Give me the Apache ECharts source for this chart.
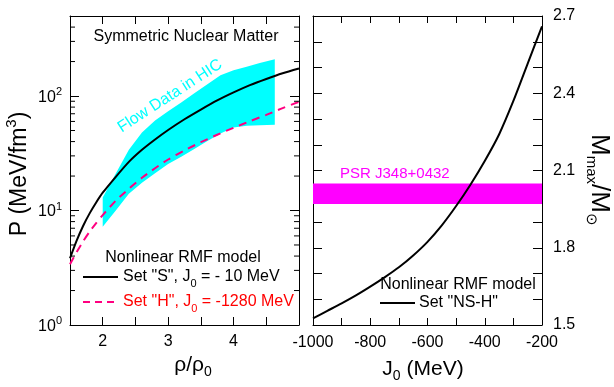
<!DOCTYPE html>
<html><head><meta charset="utf-8">
<script src="https://cdn.jsdelivr.net/npm/echarts@6/dist/echarts.min.js"></script>
<style>html,body{margin:0;padding:0;background:#fff}#c{width:614px;height:387px}</style>
</head><body><div id="c"></div>
<script>
// ---- data ----
const rhoX = [1.5,1.6,1.7,1.8,1.9,2.0,2.2,2.4,2.6,2.8,3.0,3.25,3.5,3.75,4.0,4.25,4.5,4.75,5.0];
const pressureS = [3.83,5.43,7.33,9.44,11.75,14.3,19.7,26.6,33.9,41.7,50.5,62.7,76.2,91.6,107.6,124.5,141,158,174];
const pressureH = [3.39,4.31,5.37,6.53,7.76,9.12,12.2,15.5,19.3,23.4,27.9,33.5,39.5,45.9,52.8,60.3,68.4,78.5,89.1];
const flowX = [2.0,2.2,2.4,2.6,2.8,3.0,3.2,3.4,3.6,3.8,4.0,4.2,4.4,4.63];
const flowUpper = [13,21,34,48,61,73.5,88,106,127,152,168,180,194,210];
const flowLower = [7.2,10,14,17.5,21.2,25.5,29.5,34.5,40.5,47,53,55,55.5,56];
const logMinorTicks = [2,3,4,5,6,7,8,9,20,30,40,50,60,70,80,90,200,300,400];
const rhoRange = [1.5, 5.0];
const pRange = [1, 500];
const j0 = [-1000,-950,-900,-850,-800,-750,-700,-650,-600,-550,-500,-450,-400,-350,-300,-250,-200];
const mmax = [1.526,1.555,1.584,1.615,1.649,1.685,1.724,1.770,1.823,1.887,1.962,2.045,2.137,2.24,2.37,2.515,2.66];
const j0Range = [-1000, -200];
const mRange = [1.5, 2.7];
const psrBand = [1.97, 2.05];

const FONT = 'Liberation Sans, Arial, Helvetica, sans-serif';
const chart = echarts.init(document.getElementById('c'), null, {renderer: 'canvas'});

const axisLine = {show: true, lineStyle: {color: '#000', width: 1}};
const tick = (len) => ({show: true, inside: true, length: len, lineStyle: {color: '#000', width: 1}});
const near = (a, b) => Math.abs(a - b) < 1e-6;

const logLabel = {
  show: true, margin: 8, color: '#000', fontFamily: FONT,
  formatter: v => { const l = Math.log10(v); const e = Math.round(l); return near(l, e) ? '{b|10}{sup|' + e + '}' : ''; },
  rich: {
    b: {fontSize: 16, fontFamily: FONT, color: '#000', verticalAlign: 'bottom'},
    sup: {fontSize: 11, fontFamily: FONT, color: '#000', verticalAlign: 'bottom', padding: [0, 0, 8, 0]}
  }
};

const subRich = (size, color, subSize, pad) => ({
  a: {fontSize: size, fontFamily: FONT, color: color, verticalAlign: 'top'},
  sub: {fontSize: subSize, fontFamily: FONT, color: color, verticalAlign: 'top', padding: [pad, 0, 0, 0]}
});

const option = {
  animation: false,
  backgroundColor: '#fff',
  textStyle: {fontFamily: FONT},
  grid: [
    {left: 70, top: 16, width: 229, height: 309},
    {left: 313, top: 16, width: 229, height: 309}
  ],
  xAxis: [
    {type: 'value', gridIndex: 0, position: 'bottom', min: rhoRange[0], max: rhoRange[1], interval: 0.5,
     axisLine, axisTick: tick(8), splitLine: {show: false},
     axisLabel: {show: true, margin: 9, fontSize: 16, color: '#000', fontFamily: FONT, showMinLabel: true, showMaxLabel: true,
       formatter: v => (near(v, Math.round(v)) && v >= 2 && v <= 4) ? String(Math.round(v)) : ''}},
    {type: 'value', gridIndex: 0, position: 'top', min: rhoRange[0], max: rhoRange[1], interval: 0.5,
     axisLine, axisTick: tick(8), splitLine: {show: false}, axisLabel: {show: false}},
    {type: 'value', gridIndex: 1, position: 'bottom', min: j0Range[0], max: j0Range[1], interval: 100,
     axisLine, axisTick: tick(7), splitLine: {show: false},
     axisLabel: {show: true, margin: 10, fontSize: 16, color: '#000', fontFamily: FONT, showMinLabel: true, showMaxLabel: true,
       formatter: v => (Math.round(v) % 200 === 0) ? String(Math.round(v)) : ''}},
    {type: 'value', gridIndex: 1, position: 'top', min: j0Range[0], max: j0Range[1], interval: 100,
     axisLine, axisTick: tick(7), splitLine: {show: false}, axisLabel: {show: false}}
  ],
  yAxis: [
    {type: 'log', gridIndex: 0, position: 'left', min: pRange[0], max: pRange[1], logBase: 10,
     axisLine, axisTick: tick(9), splitLine: {show: false}, axisLabel: logLabel},
    {type: 'log', gridIndex: 0, position: 'right', min: pRange[0], max: pRange[1], logBase: 10,
     axisLine, axisTick: tick(9), splitLine: {show: false}, axisLabel: {show: false}},
    {type: 'value', gridIndex: 1, position: 'right', min: mRange[0], max: mRange[1], interval: 0.1,
     axisLine, axisTick: tick(9), splitLine: {show: false},
     axisLabel: {show: true, margin: 11, fontSize: 16, color: '#000', fontFamily: FONT, showMinLabel: true, showMaxLabel: true,
       formatter: v => { const k = (v - mRange[0]) / 0.3; return near(k, Math.round(k)) ? v.toFixed(1) : ''; }}},
    {type: 'value', gridIndex: 1, position: 'left', min: mRange[0], max: mRange[1], interval: 0.1,
     axisLine, axisTick: tick(9), splitLine: {show: false}, axisLabel: {show: false}}
  ],
  series: [
    {
      type: 'custom', name: 'Flow Data in HIC', xAxisIndex: 0, yAxisIndex: 0, z: 1, silent: true,
      data: [[flowX[0], flowLower[0]]],
      renderItem: (params, api) => {
        const up = flowX.map((x, i) => api.coord([x, flowUpper[i]]));
        const lo = flowX.map((x, i) => api.coord([x, flowLower[i]])).reverse();
        return {type: 'polygon', shape: {points: up.concat(lo), smooth: 0}, style: {fill: '#00ffff', stroke: null}};
      }
    },
    {
      type: 'line', name: 'Set S', xAxisIndex: 0, yAxisIndex: 0, z: 3, showSymbol: false, smooth: 0.25,
      data: rhoX.map((x, i) => [x, pressureS[i]]),
      lineStyle: {color: '#000', width: 2}
    },
    {
      type: 'line', name: 'Set H', xAxisIndex: 0, yAxisIndex: 0, z: 3, showSymbol: false, smooth: 0.25,
      data: rhoX.map((x, i) => [x, pressureH[i]]),
      lineStyle: {color: '#ff0080', width: 2, type: [8, 6]}
    },
    {
      type: 'custom', name: 'minor', xAxisIndex: 0, yAxisIndex: 0, z: 4, silent: true,
      data: logMinorTicks.map(v => [rhoRange[0], v]),
      renderItem: (params, api) => {
        const v = api.value(1);
        const pl = api.coord([rhoRange[0], v]);
        const pr = api.coord([rhoRange[1], v]);
        return {type: 'group', children: [
          {type: 'line', shape: {x1: pl[0], y1: pl[1], x2: pl[0] + 5, y2: pl[1]}, style: {stroke: '#000', lineWidth: 1}},
          {type: 'line', shape: {x1: pr[0], y1: pr[1], x2: pr[0] - 5, y2: pr[1]}, style: {stroke: '#000', lineWidth: 1}}
        ]};
      }
    },
    {
      type: 'line', name: 'PSR', xAxisIndex: 2, yAxisIndex: 2, z: 1, showSymbol: false, data: [],
      markArea: {silent: true, itemStyle: {color: '#ff00ff', opacity: 1}, data: [[{yAxis: psrBand[0]}, {yAxis: psrBand[1]}]]}
    },
    {
      type: 'line', name: 'NS-H', xAxisIndex: 2, yAxisIndex: 2, z: 3, showSymbol: false, smooth: 0.25,
      data: j0.map((x, i) => [x, mmax[i]]),
      lineStyle: {color: '#000', width: 2}
    }
  ],
  graphic: [
    {type: 'text', x: 186, y: 37, z: 10, style: {text: 'Symmetric Nuclear Matter', fontSize: 16, fontFamily: FONT, fill: '#000', align: 'center', verticalAlign: 'middle', textAlign: 'center', textVerticalAlign: 'middle'}},
    {type: 'text', x: 170, y: 96, rotation: 0.576, z: 10, style: {text: 'Flow Data in HIC', fontSize: 16, fontFamily: FONT, fill: '#00ffff', align: 'center', verticalAlign: 'middle', textAlign: 'center', textVerticalAlign: 'middle'}},
    {type: 'text', x: 183, y: 258, z: 10, style: {text: 'Nonlinear RMF model', fontSize: 16, fontFamily: FONT, fill: '#000', align: 'center', verticalAlign: 'middle', textAlign: 'center', textVerticalAlign: 'middle'}},
    {type: 'line', z: 10, shape: {x1: 83, y1: 277, x2: 118, y2: 277}, style: {stroke: '#000', lineWidth: 2}},
    {type: 'text', x: 123, y: 279, z: 10, style: {text: '{a|Set "S", J}{sub|0}{a| = - 10 MeV}', rich: subRich(16, '#000', 11, 9), fill: '#000', align: 'left', verticalAlign: 'middle', textAlign: 'left', textVerticalAlign: 'middle'}},
    {type: 'line', z: 10, shape: {x1: 83, y1: 302, x2: 118, y2: 302}, style: {stroke: '#ff0080', lineWidth: 2, lineDash: [7, 5]}},
    {type: 'text', x: 123, y: 304, z: 10, style: {text: '{a|Set "H", J}{sub|0}{a| = -1280 MeV}', rich: subRich(16, '#ff0000', 11, 9), fill: '#ff0000', align: 'left', verticalAlign: 'middle', textAlign: 'left', textVerticalAlign: 'middle'}},
    {type: 'text', x: 340, y: 174, z: 10, style: {text: 'PSR J348+0432', fontSize: 15, fontFamily: FONT, fill: '#ff00ff', align: 'left', verticalAlign: 'middle', textAlign: 'left', textVerticalAlign: 'middle'}},
    {type: 'text', x: 458, y: 285, z: 10, style: {text: 'Nonlinear RMF model', fontSize: 16, fontFamily: FONT, fill: '#000', align: 'center', verticalAlign: 'middle', textAlign: 'center', textVerticalAlign: 'middle'}},
    {type: 'line', z: 10, shape: {x1: 380, y1: 303, x2: 415, y2: 303}, style: {stroke: '#000', lineWidth: 2}},
    {type: 'text', x: 419, y: 303, z: 10, style: {text: 'Set "NS-H"', fontSize: 16, fontFamily: FONT, fill: '#000', align: 'left', verticalAlign: 'middle', textAlign: 'left', textVerticalAlign: 'middle'}},
    {type: 'text', x: 18, y: 174, rotation: Math.PI / 2, z: 10, style: {text: '{a|P (MeV/fm}{sup|3}{a|)}', fill: '#000',
      rich: {a: {fontSize: 23, fontFamily: FONT, color: '#000', verticalAlign: 'bottom'}, sup: {fontSize: 15, fontFamily: FONT, color: '#000', verticalAlign: 'bottom', padding: [0, 0, 12, 0]}},
      align: 'center', verticalAlign: 'middle', textAlign: 'center', textVerticalAlign: 'middle'}},
    {type: 'text', x: 193, y: 367, z: 10, style: {text: '{a|ρ/ρ}{sub|0}', rich: subRich(21, '#000', 14, 11), fill: '#000', align: 'center', verticalAlign: 'middle', textAlign: 'center', textVerticalAlign: 'middle'}},
    {type: 'text', x: 423, y: 371, z: 10, style: {text: '{a|J}{sub|0}{a| (MeV)}', rich: subRich(21, '#000', 14, 11), fill: '#000', align: 'center', verticalAlign: 'middle', textAlign: 'center', textVerticalAlign: 'middle'}},
    {type: 'text', x: 598, y: 180, rotation: -Math.PI / 2, z: 10, style: {text: '{a|M}{sub|max}{a|/M}{sub|⊙}', rich: subRich(26, '#000', 15, 14), fill: '#000', align: 'center', verticalAlign: 'middle', textAlign: 'center', textVerticalAlign: 'middle'}}
  ]
};
chart.setOption(option);
</script>
</body></html>
